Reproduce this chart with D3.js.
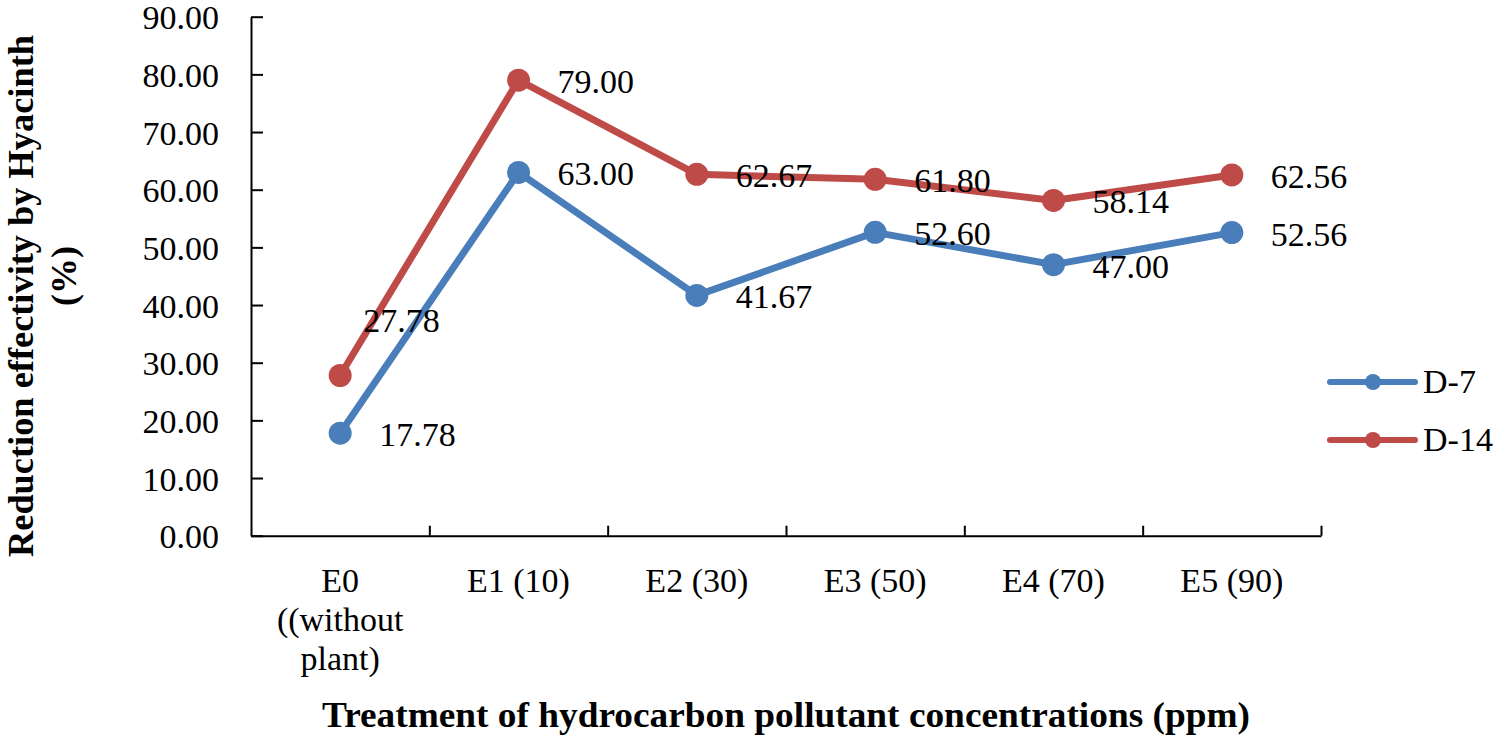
<!DOCTYPE html>
<html>
<head>
<meta charset="utf-8">
<script src="https://cdn.jsdelivr.net/npm/d3@7"></script>
<style>
  body { margin: 0; background: #fff; }
  text { font-family: 'Liberation Serif', serif; fill: #000; }
</style>
</head>
<body>
<svg id="chart" width="1501" height="740"></svg>
<script>
const categories = [
  ['E0', '((without', 'plant)'],
  ['E1 (10)'],
  ['E2 (30)'],
  ['E3 (50)'],
  ['E4 (70)'],
  ['E5 (90)'],
]
const seriesNames = ['D-7', 'D-14']
const d7 = [17.78, 63.0, 41.67, 52.6, 47.0, 52.56]
const d14 = [27.78, 79.0, 62.67, 61.8, 58.14, 62.56]
const yTicks = [0, 10, 20, 30, 40, 50, 60, 70, 80, 90]
const colors = ['#4A7EBB', '#BE4B48']

const svg = d3.select('#chart')
const margin = { top: 16.7, left: 251, right: 180, bottom: 204.3 }
const W = 1501, H = 740
const fs = 34

const x = d3.scaleBand().domain(d3.range(categories.length)).range([margin.left, W - margin.right]).padding(0)
const xEdge = d3.scaleLinear().domain([0, categories.length]).range([margin.left, W - margin.right])
const y = d3.scaleLinear().domain([0, 90]).range([H - margin.bottom, margin.top])
const cx = i => x(i) + x.bandwidth() / 2

// y axis
const yAxis = svg.append('g')
  .attr('transform', `translate(${margin.left},0)`)
  .call(d3.axisLeft(y).tickValues(yTicks).tickFormat(d3.format('.2f')).tickSize(-12).tickPadding(32).tickSizeOuter(0))
yAxis.select('.domain').attr('stroke', '#000').attr('stroke-width', 2)
yAxis.selectAll('.tick line').attr('stroke', '#000').attr('stroke-width', 2)
yAxis.selectAll('.tick text').attr('font-size', fs).attr('font-family', 'Liberation Serif').attr('dy', '0.36em')

// x axis (ticks on category boundaries)
const xAxis = svg.append('g')
  .attr('transform', `translate(0,${y(0)})`)
  .call(d3.axisBottom(xEdge).tickValues(d3.range(1, categories.length + 1)).tickFormat('').tickSize(-10).tickSizeOuter(0))
xAxis.select('.domain').attr('stroke', '#000').attr('stroke-width', 2)
xAxis.selectAll('.tick line').attr('stroke', '#000').attr('stroke-width', 2)

// category labels
svg.append('g').selectAll('text')
  .data(categories)
  .enter()
  .append('text')
  .attr('text-anchor', 'middle')
  .attr('font-size', fs)
  .each(function (lines, i) {
    d3.select(this).selectAll('tspan')
      .data(lines)
      .enter()
      .append('tspan')
      .attr('x', cx(i))
      .attr('y', (d, j) => 592 + j * 39)
      .text(d => d)
  })

// series
const series = [d7, d14]
const line = d3.line().x((d, i) => cx(i)).y(d => y(d))
// label nudges, only the E0 D-14 label was moved in the original
const labelShift = { '1-0': [-16, -57] }

series.forEach((vals, s) => {
  const g = svg.append('g')
  g.append('path')
    .datum(vals)
    .attr('d', line)
    .attr('fill', 'none')
    .attr('stroke', colors[s])
    .attr('stroke-width', 7)
    .attr('stroke-linejoin', 'round')
  g.selectAll('circle')
    .data(vals)
    .enter()
    .append('circle')
    .attr('cx', (d, i) => cx(i))
    .attr('cy', d => y(d))
    .attr('r', 11.5)
    .attr('fill', colors[s])
})

series.forEach((vals, s) => {
  svg.append('g').selectAll('text')
    .data(vals)
    .enter()
    .append('text')
    .attr('font-size', fs)
    .attr('x', (d, i) => cx(i) + 39 + (labelShift[`${s}-${i}`] || [0, 0])[0])
    .attr('y', (d, i) => y(d) + 13 + (labelShift[`${s}-${i}`] || [0, 0])[1])
    .text(d => d3.format('.2f')(d))
})

// legend
const legend = svg.append('g')
seriesNames.forEach((name, s) => {
  const ly = 382 + s * 58
  legend.append('line')
    .attr('x1', 1330).attr('x2', 1415).attr('y1', ly).attr('y2', ly)
    .attr('stroke', colors[s]).attr('stroke-width', 6).attr('stroke-linecap', 'round')
  legend.append('circle').attr('cx', 1373).attr('cy', ly).attr('r', 8).attr('fill', colors[s])
  legend.append('text').attr('x', 1423).attr('y', ly + 11).attr('font-size', fs).text(name)
})

// axis titles
svg.append('text')
  .attr('x', (margin.left + W - margin.right) / 2)
  .attr('y', 727)
  .attr('text-anchor', 'middle')
  .attr('font-size', 36)
  .attr('font-weight', 'bold')
  .attr('textLength', 928)
  .attr('lengthAdjust', 'spacingAndGlyphs')
  .text('Treatment of hydrocarbon pollutant concentrations (ppm)')

svg.append('text')
  .attr('transform', 'translate(33,296) rotate(-90)')
  .attr('text-anchor', 'middle')
  .attr('font-size', 36)
  .attr('font-weight', 'bold')
  .attr('textLength', 522)
  .attr('lengthAdjust', 'spacingAndGlyphs')
  .text('Reduction effectivity by Hyacinth')

svg.append('text')
  .attr('transform', 'translate(76,276) rotate(-90)')
  .attr('text-anchor', 'middle')
  .attr('font-size', 36)
  .attr('font-weight', 'bold')
  .text('(%)')
</script>
</body>
</html>
